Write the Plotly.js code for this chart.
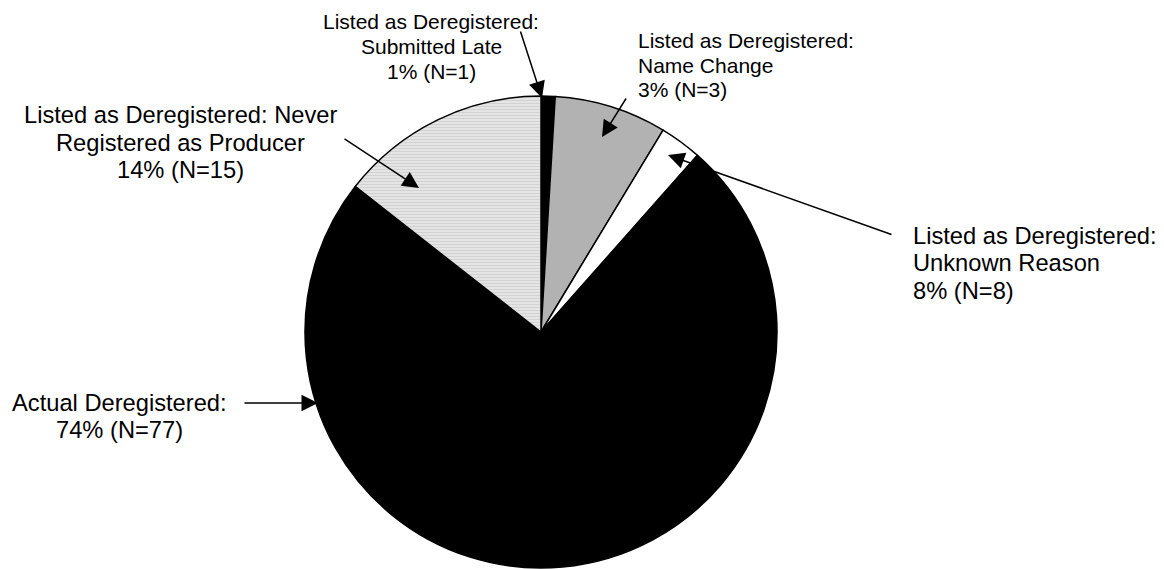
<!DOCTYPE html>
<html>
<head>
<meta charset="utf-8">
<script src="https://cdn.plot.ly/plotly-3.0.1.min.js"></script>
<style>
  html, body { margin: 0; padding: 0; background: #ffffff; }
  #chart { width: 1164px; height: 569px; }
</style>
</head>
<body>
<div id="chart"></div>
<script>
// Deregistration outcomes, in clockwise order from 12 o'clock
const categories = [
  'Listed as Deregistered: Submitted Late',
  'Listed as Deregistered: Unknown Reason',
  'Listed as Deregistered: Name Change',
  'Actual Deregistered',
  'Listed as Deregistered: Never Registered as Producer'
];
const counts = [1, 8, 3, 77, 15];
const sliceColors = ['#000000', '#b2b2b2', '#ffffff', '#000000', '#e4e4e4'];

// Text lines of each callout (the last line holds the share and count)
const calloutHeads = [
  ['Listed as Deregistered:', 'Submitted Late'],
  ['Listed as Deregistered:', 'Unknown Reason'],
  ['Listed as Deregistered:', 'Name Change'],
  ['Actual Deregistered:'],
  ['Listed as Deregistered: Never', 'Registered as Producer']
];

const total = counts.reduce((a, b) => a + b, 0);
const W = 1164, H = 569;
const FONT = 'Arial, "Liberation Sans", sans-serif';

// Callout layout in pixels: text anchor, line pitch, font size, alignment,
// and the arrow from tail to head.
const calloutStyle = [
  { x: 431, y: 22, pitch: 25, size: 21, anchor: 'center', tail: [520, 30], head: [542, 98] },
  { x: 911, y: 236, pitch: 27.5, size: 23.7, anchor: 'left', tail: [893, 235], head: [668, 155] },
  { x: 636, y: 40.5, pitch: 24.7, size: 21, anchor: 'left', tail: [627, 97], head: [602, 137] },
  { x: 119, y: 403, pitch: 27.3, size: 23.7, anchor: 'center', tail: [243, 403], head: [318, 403] },
  { x: 180, y: 115, pitch: 27.5, size: 23.7, anchor: 'center', tail: [343, 138], head: [419, 188] }
];

const px = (x) => x / W;
const py = (y) => 1 - y / H;

const annotations = [];
categories.forEach((cat, i) => {
  const st = calloutStyle[i];
  const pct = Math.round(counts[i] / total * 100);
  const lines = calloutHeads[i].concat([pct + '% (N=' + counts[i] + ')']);
  lines.forEach((ln, k) => {
    annotations.push({
      xref: 'paper', yref: 'paper',
      x: px(st.x), y: py(st.y + k * st.pitch),
      xanchor: st.anchor, yanchor: 'middle',
      text: ln, showarrow: false,
      font: { family: FONT, size: st.size, color: '#000000' }
    });
  });
  annotations.push({
    xref: 'paper', yref: 'paper',
    x: px(st.head[0]), y: py(st.head[1]),
    ax: st.tail[0] - st.head[0], ay: st.tail[1] - st.head[1],
    text: '', showarrow: true,
    arrowhead: 2, arrowsize: 2.2, arrowwidth: 1.5, arrowcolor: '#000000',
    standoff: 0, startstandoff: 0
  });
});

// Pie centre and radius in pixels
const cx = 541, cy = 332, r = 236;

const trace = {
  type: 'pie',
  labels: categories,
  values: counts,
  sort: false,
  direction: 'clockwise',
  rotation: 0,
  textinfo: 'none',
  hoverinfo: 'label+value+percent',
  showlegend: false,
  marker: {
    colors: sliceColors,
    line: { color: '#000000', width: 1.5 },
    pattern: {
      shape: ['', '', '', '', '-'],
      bgcolor: sliceColors,
      fgcolor: ['#000000', '#b2b2b2', '#ffffff', '#000000', '#d2d2d2'],
      size: 3,
      solidity: 0.35
    }
  },
  domain: {
    x: [(cx - r) / W, (cx + r) / W],
    y: [(H - cy - r) / H, (H - cy + r) / H]
  }
};

const layout = {
  width: W,
  height: H,
  margin: { l: 0, r: 0, t: 0, b: 0 },
  paper_bgcolor: '#ffffff',
  plot_bgcolor: '#ffffff',
  showlegend: false,
  font: { family: FONT, color: '#000000' },
  annotations: annotations
};

Plotly.newPlot('chart', [trace], layout, { displayModeBar: false, staticPlot: true });
</script>
</body>
</html>
